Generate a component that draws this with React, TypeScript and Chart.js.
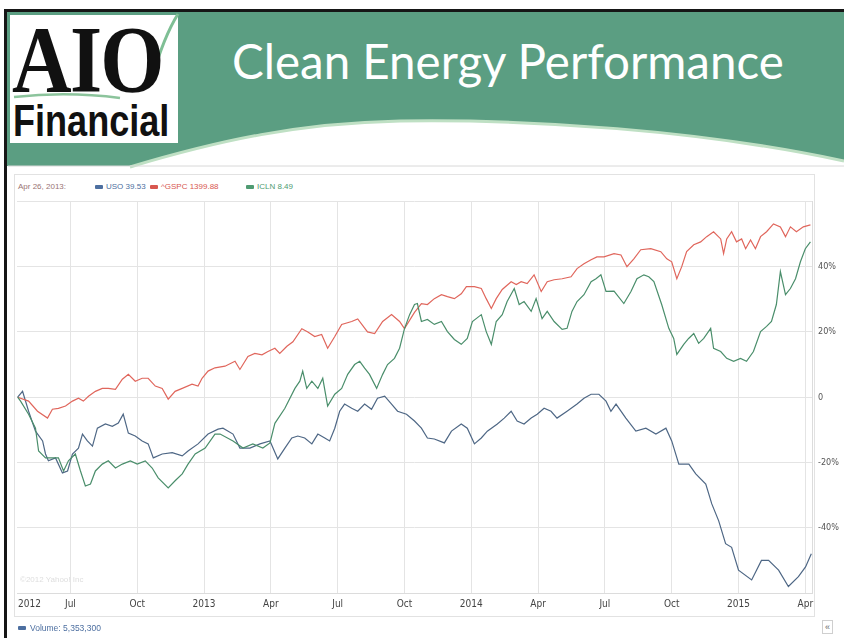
import React, { useEffect, useRef } from "react";
import { Chart, registerables } from "chart.js";

Chart.register(...registerables);

// ---- axis data ----
const tickMonths = [4.16, 6, 9, 12, 15, 18, 21, 24, 27, 30, 33, 36, 39];
const tickLabels = ["2012", "Jul", "Oct", "2013", "Apr", "Jul", "Oct", "2014", "Apr", "Jul", "Oct", "2015", "Apr"];

// ---- series (x = months since Jan 2012, y = % change) ----
const gspcMonths = [3.63, 4.12, 4.52, 4.97, 5.19, 5.46, 5.78, 6.09, 6.36, 6.58, 6.81, 7.12, 7.43, 7.7, 8.02, 8.33, 8.6, 8.91, 9.22, 9.49, 9.81, 10.12, 10.39, 10.7, 11.02, 11.46, 11.73, 11.91, 12.18, 12.49, 12.94, 13.39, 13.61, 13.97, 14.28, 14.6, 14.87, 15.18, 15.4, 15.72, 15.99, 16.39, 16.66, 16.97, 17.28, 17.55, 17.87, 18.18, 18.63, 18.9, 19.34, 19.66, 20.02, 20.42, 20.78, 21.0, 21.45, 21.76, 22.03, 22.34, 22.66, 22.93, 23.24, 23.55, 23.78, 24.14, 24.45, 24.67, 24.9, 25.12, 25.39, 25.79, 26.02, 26.24, 26.51, 26.82, 27.14, 27.41, 27.72, 28.08, 28.48, 28.75, 29.06, 29.38, 29.64, 29.96, 30.41, 30.72, 30.99, 31.3, 31.61, 32.06, 32.51, 32.78, 33.0, 33.23, 33.45, 33.67, 33.99, 34.3, 34.57, 34.88, 35.2, 35.33, 35.47, 35.69, 35.91, 36.14, 36.32, 36.54, 36.76, 36.99, 37.26, 37.57, 37.88, 38.11, 38.33, 38.6, 38.91, 39.23];
const gspcValues = [0, -1.2, -4.3, -6.4, -3.7, -3.4, -2.7, -1.2, -0.3, -1.2, 0.3, 1.8, 2.7, 2.7, 2.4, 5.5, 7, 4.9, 5.8, 5.8, 3.4, 2.7, -0.6, 1.8, 2.7, 4, 3.4, 5.8, 8, 9, 9.5, 11, 8.5, 12.5, 13.4, 13, 14, 15, 13.4, 15.6, 17, 21, 20, 18.6, 19.2, 15, 18.6, 22.3, 23.2, 24, 20, 19.5, 23.2, 25.3, 23.2, 21, 26, 28.7, 28.4, 30.2, 31.4, 30.8, 30.2, 31.7, 33.9, 33.9, 33.3, 30.2, 27.2, 30.2, 33, 35.4, 34.5, 35.4, 34.8, 37.5, 32.4, 35.4, 36, 36.3, 36.9, 39.4, 40.9, 42.1, 43, 43, 44, 43.6, 40, 42.4, 45.2, 45.5, 44.6, 42.4, 41.5, 36.3, 40, 44.6, 46.7, 47.6, 49.2, 50.7, 48.5, 44, 48.5, 50.7, 47.6, 48.5, 45.5, 48.2, 45.5, 49.2, 50.7, 53.1, 52.2, 49.2, 52.2, 50.7, 52.2, 52.8];

const iclnMonths = [3.63, 3.76, 4.12, 4.43, 4.57, 4.88, 5.19, 5.46, 5.69, 5.91, 6.22, 6.45, 6.67, 6.9, 7.12, 7.43, 7.7, 8.02, 8.33, 8.69, 9.0, 9.36, 9.67, 9.94, 10.39, 10.7, 11.02, 11.28, 11.6, 12.05, 12.49, 12.72, 13.3, 13.75, 14.19, 14.64, 14.96, 15.18, 15.63, 16.08, 16.3, 16.43, 16.61, 16.84, 17.11, 17.33, 17.55, 17.87, 18.18, 18.45, 18.76, 18.99, 19.21, 19.43, 19.75, 20.02, 20.24, 20.55, 20.78, 21.0, 21.23, 21.45, 21.58, 21.76, 22.03, 22.34, 22.66, 22.93, 23.24, 23.55, 23.82, 24.05, 24.45, 24.67, 24.9, 25.12, 25.39, 25.61, 25.93, 26.15, 26.37, 26.69, 26.91, 27.18, 27.41, 27.72, 28.08, 28.3, 28.52, 28.75, 29.06, 29.38, 29.6, 29.82, 30.05, 30.41, 30.85, 31.17, 31.44, 31.75, 31.97, 32.2, 32.55, 32.87, 33.09, 33.23, 33.54, 33.76, 33.99, 34.21, 34.44, 34.75, 34.88, 35.2, 35.47, 35.78, 36.09, 36.36, 36.67, 36.99, 37.26, 37.48, 37.7, 37.88, 38.11, 38.33, 38.56, 38.78, 39.0, 39.23];
const iclnValues = [0, -1.2, -5.2, -9.5, -16.5, -18.6, -18.6, -18.6, -22.6, -19.5, -17.4, -22.6, -27.2, -26.6, -22.6, -20.5, -19.5, -21.7, -20.5, -19.5, -20.5, -19.5, -21.7, -24.7, -27.8, -25.6, -23.5, -20.5, -17.4, -15.6, -11.3, -11.3, -13.4, -15.6, -14.3, -15.6, -14, -8, -3.4, 2.7, 4.9, 8, 2.7, 4.9, 2.7, 5.8, -2.7, 0.9, 2.7, 7, 10, 11, 8.9, 7, 2.7, 7, 10, 11.9, 15, 21, 25.3, 28.4, 28.7, 23.2, 23.8, 22.3, 23.2, 20.1, 17.7, 16.2, 18, 23.2, 25.3, 20.1, 16.2, 23.2, 25.3, 29.3, 33.3, 28.4, 29.3, 26.3, 30.2, 24.1, 26.3, 23.2, 20.8, 21.1, 26.3, 29.3, 31.4, 35.4, 36.3, 37.5, 32.4, 32.5, 28.7, 32.4, 36.3, 37.5, 36.9, 35.4, 28.4, 21.1, 18, 13.1, 16.2, 18, 19.5, 16.5, 18, 21.1, 15, 14, 11.9, 11, 11.9, 11, 14, 20.1, 21.7, 23.2, 28.4, 38.5, 31.4, 33.3, 36.3, 41.5, 45.5, 47.6];

const usoMonths = [3.63, 3.85, 4.12, 4.43, 4.75, 4.88, 5.01, 5.33, 5.64, 5.87, 6.09, 6.36, 6.54, 6.76, 6.99, 7.21, 7.57, 7.88, 8.15, 8.37, 8.6, 8.91, 9.22, 9.49, 9.72, 10.12, 10.57, 11.02, 11.28, 11.73, 12.18, 12.63, 12.85, 13.3, 13.61, 14.06, 14.51, 14.96, 15.31, 15.63, 15.94, 16.21, 16.52, 16.84, 17.11, 17.42, 17.64, 17.87, 18.09, 18.31, 18.63, 18.9, 19.21, 19.52, 19.79, 20.11, 20.42, 20.69, 21.09, 21.45, 21.76, 22.03, 22.34, 22.79, 23.11, 23.55, 23.82, 24.14, 24.45, 24.72, 25.17, 25.48, 25.79, 26.06, 26.37, 26.69, 26.96, 27.27, 27.58, 27.85, 28.3, 28.75, 29.06, 29.38, 29.73, 30.05, 30.27, 30.5, 30.94, 31.39, 31.84, 32.29, 32.74, 33.0, 33.32, 33.77, 34.08, 34.53, 34.8, 35.11, 35.42, 35.69, 36.0, 36.59, 37.03, 37.35, 37.8, 38.24, 38.69, 39.01, 39.27];
const usoValues = [0, 1.8, -4.3, -10.4, -13.4, -17.4, -19.5, -18.6, -23.2, -22.6, -17.4, -15.6, -11.3, -13.4, -15, -9.5, -8.2, -8.9, -7.9, -5.2, -11, -11.9, -13.4, -14.3, -18.6, -17.4, -17, -18, -16.5, -14.3, -11.3, -9.8, -9.5, -11.3, -15.6, -15.6, -14.3, -13.4, -18.9, -15.6, -12.5, -11.9, -12.5, -14.3, -11.3, -12.5, -13.4, -9.5, -4.3, -2.1, -3.4, -4.3, -2.1, -3.7, -0.3, 0.3, -2.1, -4.3, -5.2, -7.3, -9.5, -12.5, -12.8, -14, -10.4, -8.2, -9.5, -14.3, -12.5, -10.4, -8.2, -6.4, -4.3, -7.3, -8.2, -6.4, -5.2, -3.4, -4.3, -6.4, -4.3, -2.1, -0.3, 0.9, 0.9, -1.2, -4.3, -2.1, -6.4, -10.4, -9.5, -11.3, -9.5, -13.4, -20.5, -20.5, -23.5, -26.6, -32.7, -37.9, -44.9, -46, -53, -56, -50, -50, -53, -58, -55, -52, -48];

const legendDate = "Apr 26, 2013:";
const legendItems = [
  { name: "USO 39.53", color: "#4d6fa0", x: 95 },
  { name: "^GSPC 1399.88", color: "#d8574f", x: 150 },
  { name: "ICLN 8.49", color: "#4f9b72", x: 246 },
];

const pair = (xs: number[], ys: number[]) => xs.map((x, i) => ({ x, y: ys[i] }));

const axisFont = '"Liberation Sans Narrow", "DejaVu Sans Condensed", "Liberation Sans", sans-serif';
const smallFont = '"Liberation Sans", Arial, sans-serif';

export default function App() {
  const ref = useRef<HTMLCanvasElement>(null);

  useEffect(() => {
    if (!ref.current) return;
    const chart = new Chart(ref.current, {
      type: "line",
      data: {
        datasets: [
          { label: "ICLN", data: pair(iclnMonths, iclnValues), borderColor: "#4a8e6b", borderWidth: 1.2, pointRadius: 0, tension: 0 },
          { label: "^GSPC", data: pair(gspcMonths, gspcValues), borderColor: "#e0665c", borderWidth: 1.2, pointRadius: 0, tension: 0 },
          { label: "USO", data: pair(usoMonths, usoValues), borderColor: "#4e6785", borderWidth: 1.2, pointRadius: 0, tension: 0 },
        ],
      },
      options: {
        animation: false,
        responsive: false,
        maintainAspectRatio: false,
        layout: { padding: { left: 17, top: 8, right: 0, bottom: 0 } },
        plugins: { legend: { display: false }, tooltip: { enabled: false } },
        scales: {
          x: {
            type: "linear",
            min: 3.6,
            max: 39.3,
            afterBuildTicks: (scale: any) => {
              scale.ticks = tickMonths.map((v) => ({ value: v }));
            },
            afterFit: (scale: any) => {
              scale.height = 22;
            },
            ticks: {
              autoSkip: false,
              maxRotation: 0,
              padding: 5,
              color: "#444",
              font: { family: axisFont, size: 10 },
              callback: (_v: any, i: number) => tickLabels[i],
            },
            grid: {
              drawTicks: false,
              color: (ctx: any) => (ctx.index === 0 ? "rgba(0,0,0,0)" : "#e4e4e4"),
            },
            border: { display: true, color: "#dcdcdc" },
          },
          y: {
            position: "right",
            min: -60,
            max: 60,
            afterFit: (scale: any) => {
              scale.width = 32;
            },
            ticks: {
              stepSize: 20,
              padding: 6,
              color: "#555",
              font: { family: axisFont, size: 9 },
              callback: (v: any) => (v === 0 ? "0" : Math.abs(v) === 60 ? "" : v + "%"),
            },
            grid: { drawTicks: false, color: "#e4e4e4" },
            border: { display: true, color: "#dcdcdc" },
          },
        },
      },
    });
    return () => chart.destroy();
  }, []);

  return (
    <div style={{ position: "fixed", left: 0, top: 0, width: 844, height: 638, background: "#fff", overflow: "hidden" }}>
      <svg width={844} height={175} style={{ position: "absolute", left: 0, top: 0 }}>
        <rect x={5} y={11} width={839} height={155} fill="#5b9e82" />
        <path d="M 130 167 C 220 140, 300 123, 400 121 C 530 119, 700 130, 844 161 L 844 172 L 130 172 Z" fill="#ffffff" />
        <path d="M 130 167 C 220 140, 300 123, 400 121 C 530 119, 700 130, 844 161" fill="none" stroke="#bfe0c4" strokeWidth={3} />
        <rect x={10} y={15} width={168} height={128} fill="#ffffff" />
        <path d="M 178 14 C 168 30, 160 50, 152 78" fill="none" stroke="#7fbf95" strokeWidth={3} />
        <path d="M 14 97 C 50 93, 90 94, 120 98" fill="none" stroke="#8cc49c" strokeWidth={2.5} />
        <rect x={4} y={9} width={840} height={3} fill="#161616" />
        <line x1={8} y1={166} x2={844} y2={166} stroke="#d8d8d8" strokeWidth={1} />
      </svg>
      <div style={{ position: "absolute", left: 4, top: 9, width: 3, height: 629, background: "#161616" }} />

      <div style={{ position: "absolute", left: 12, top: 12, fontFamily: '"Liberation Serif", serif', fontWeight: 700, fontSize: 96, lineHeight: "96px", color: "#111", transform: "scaleX(0.86)", transformOrigin: "left top", letterSpacing: -2 }}>AIO</div>
      <div style={{ position: "absolute", left: 13, top: 97, fontFamily: '"Liberation Sans", Arial, sans-serif', fontWeight: 700, fontSize: 44, lineHeight: "48px", color: "#111", transform: "scaleX(0.82)", transformOrigin: "left top" }}>Financial</div>

      <div style={{ position: "absolute", left: 232, top: 31, fontFamily: 'Lato, "Open Sans", sans-serif', fontSize: 47.5, lineHeight: "60px", color: "#ffffff", whiteSpace: "nowrap" }}>Clean Energy Performance</div>

      <div style={{ position: "absolute", left: 14, top: 174, width: 801, height: 443, border: "1px solid #e2e2e2", boxSizing: "border-box" }} />

      <div style={{ position: "absolute", left: 18, top: 182, fontFamily: smallFont, fontSize: 8, color: "#9a7474", whiteSpace: "nowrap" }}>{legendDate}</div>
      {legendItems.map((it) => (
        <div key={it.name} style={{ position: "absolute", left: it.x, top: 182, fontFamily: smallFont, fontSize: 8, color: it.color, whiteSpace: "nowrap", display: "flex", alignItems: "center" }}>
          <span style={{ display: "inline-block", width: 8, height: 4, background: it.color, borderRadius: 1, marginRight: 3 }} />
          {it.name}
        </div>
      ))}

      <canvas ref={ref} width={844} height={425} style={{ position: "absolute", left: 0, top: 190, width: 844, height: 425 }} />

      <div style={{ position: "absolute", left: 20, top: 575, fontFamily: smallFont, fontSize: 8, color: "#dedede", whiteSpace: "nowrap" }}>©2012 Yahoo! Inc</div>

      <div style={{ position: "absolute", left: 18, top: 623, fontFamily: smallFont, fontSize: 8.5, color: "#4d6fa0", whiteSpace: "nowrap", display: "flex", alignItems: "center" }}>
        <span style={{ display: "inline-block", width: 8, height: 4, background: "#4d6fa0", borderRadius: 1, marginRight: 4 }} />
        Volume: 5,353,300
      </div>
      <div style={{ position: "absolute", left: 822, top: 620, width: 11, height: 14, border: "1px solid #cfcfcf", boxSizing: "border-box", fontFamily: smallFont, fontSize: 9, lineHeight: "12px", textAlign: "center", color: "#666" }}>«</div>
    </div>
  );
}
